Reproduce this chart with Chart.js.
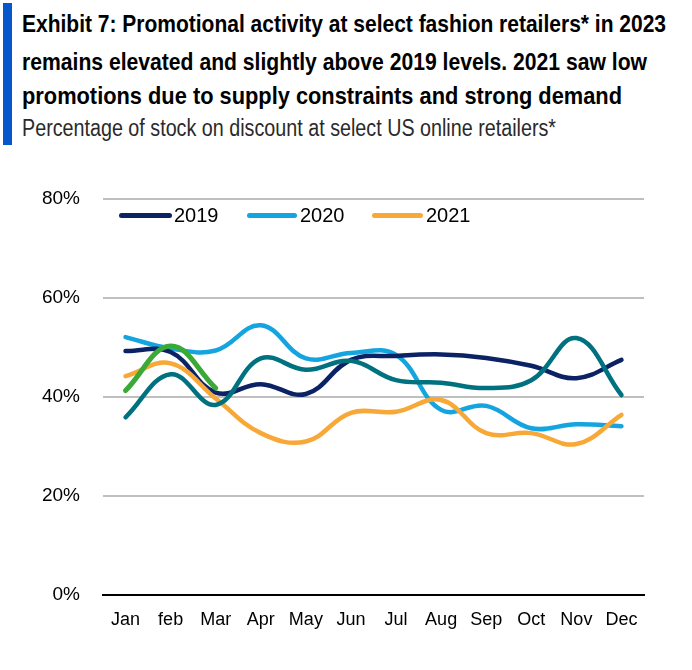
<!DOCTYPE html>
<html>
<head>
<meta charset="utf-8">
<script src="https://cdn.jsdelivr.net/npm/chart.js@4/dist/chart.umd.min.js"></script>
<style>
  html, body { margin: 0; padding: 0; background: #fff; }
  body { width: 692px; height: 670px; position: relative; overflow: hidden; }
  .bar { position: absolute; left: 3px; top: 3px; width: 9px; height: 142px; background: #0757cc; }
  .t { position: absolute; left: 22px; white-space: nowrap; font-family: 'Liberation Sans', Arial, sans-serif; line-height: 24px; transform-origin: 0 50%; display: inline-block; }
  .b { font-weight: bold; font-size: 24px; color: #000; }
  .s { font-size: 23px; color: #2a2a2a; }
  #wrap { position: absolute; left: 0; top: 150px; width: 692px; height: 520px; }
  .lg { position: absolute; font-family: 'Liberation Sans', Arial, sans-serif; font-size: 20px; line-height: 20px; color: #000; }
  .sw { position: absolute; height: 5px; border-radius: 3px; }
</style>
</head>
<body>
<div class="bar"></div>
<span class="t b" data-w="644" style="top:12px">Exhibit 7: Promotional activity at select fashion retailers* in 2023</span>
<span class="t b" data-w="625" style="top:50px">remains elevated and slightly above 2019 levels. 2021 saw low</span>
<span class="t b" data-w="600" style="top:84px">promotions due to supply constraints and strong demand</span>
<span class="t s" data-w="534" style="top:116px">Percentage of stock on discount at select US online retailers*</span>
<div id="wrap"><canvas id="c" width="692" height="520"></canvas></div>
<div id="legend"></div>
<script>
const months = ['Jan','feb','Mar','Apr','May','Jun','Jul','Aug','Sep','Oct','Nov','Dec'];
const yTicks = [0, 20, 40, 60, 80];
const s2019 = [49.3, 49.1, 40.9, 42.6, 40.6, 47.5, 48.3, 48.6, 47.9, 46.3, 43.8, 47.5];
const s2020 = [52.1, 49.8, 49.4, 54.5, 47.8, 48.9, 48.5, 37.4, 38.2, 33.7, 34.5, 34.1];
const s2021 = [44.2, 46.8, 39.7, 32.7, 31.0, 36.8, 37.0, 39.4, 32.7, 32.7, 30.5, 36.4];
const s2022 = [35.9, 44.6, 38.4, 47.8, 45.5, 47.3, 43.4, 42.9, 41.8, 43.4, 51.9, 40.4];
const s2023 = [41.3, 50.3, 41.8];

// fit condensed-looking title lines to their widths
document.querySelectorAll('.t').forEach(el => {
  const w = el.getBoundingClientRect().width;
  const target = +el.dataset.w;
  el.style.transform = 'scaleX(' + (target / w) + ')';
});

const series = [
  { label: '2019', data: s2019, color: '#0b2265', legend: true },
  { label: '2020', data: s2020, color: '#14a5e0', legend: true },
  { label: '2021', data: s2021, color: '#f8a836', legend: true },
  { label: '2022', data: s2022, color: '#00717f', legend: false },
  { label: '2023', data: s2023, color: '#3aa935', legend: false }
];
const drawOrder = ['2020', '2019', '2021', '2022', '2023'];

const datasets = series.map(s => ({
  label: s.label,
  data: s.data,
  borderColor: s.color,
  backgroundColor: s.color,
  borderWidth: s.label === '2023' ? 5 : 4.5,
  borderCapStyle: 'round',
  borderJoinStyle: 'round',
  pointRadius: 0,
  pointHoverRadius: 0,
  tension: 0.4,
  fill: false,
  order: drawOrder.length - drawOrder.indexOf(s.label)
}));

// HTML legend built from series
const legendPos = { '2019': [119, 172, 174], '2020': [247, 297, 300], '2021': [372, 423, 426] };
const lg = document.getElementById('legend');
series.filter(s => s.legend).forEach(s => {
  const p = legendPos[s.label];
  const sw = document.createElement('div');
  sw.className = 'sw';
  sw.style.left = p[0] + 'px';
  sw.style.width = (p[1] - p[0]) + 'px';
  sw.style.top = '213px';
  sw.style.background = s.color;
  lg.appendChild(sw);
  const tx = document.createElement('div');
  tx.className = 'lg';
  tx.style.left = p[2] + 'px';
  tx.style.top = '205px';
  tx.textContent = s.label;
  lg.appendChild(tx);
});

new Chart(document.getElementById('c'), {
  type: 'line',
  data: { labels: months, datasets },
  options: {
    responsive: false,
    animation: false,
    devicePixelRatio: 1,
    layout: { padding: { top: 49, right: 48, left: 0, bottom: 0 } },
    plugins: { legend: { display: false }, tooltip: { enabled: false }, title: { display: false } },
    scales: {
      x: {
        offset: true,
        grid: { display: false, drawTicks: false },
        border: { display: true, color: '#000', width: 2 },
        ticks: {
          color: '#000',
          padding: 14,
          maxRotation: 0,
          autoSkip: false,
          font: { family: "'Liberation Sans', Arial, sans-serif", size: 18 }
        },
        afterFit: (sc) => { sc.height = 75; }
      },
      y: {
        min: 0, max: 80,
        afterBuildTicks: (sc) => { sc.ticks = yTicks.map(v => ({ value: v })); },
        grid: {
          drawTicks: false,
          color: (ctx) => ctx.tick && ctx.tick.value === 0 ? '#000' : '#bfbfbf',
          lineWidth: 2
        },
        border: { display: false },
        ticks: {
          color: '#000',
          padding: 23,
          font: { family: "'Liberation Sans', Arial, sans-serif", size: 19 },
          callback: (v) => v + '%'
        },
        afterFit: (sc) => { sc.width = 103; }
      }
    }
  }
});
</script>
</body>
</html>
